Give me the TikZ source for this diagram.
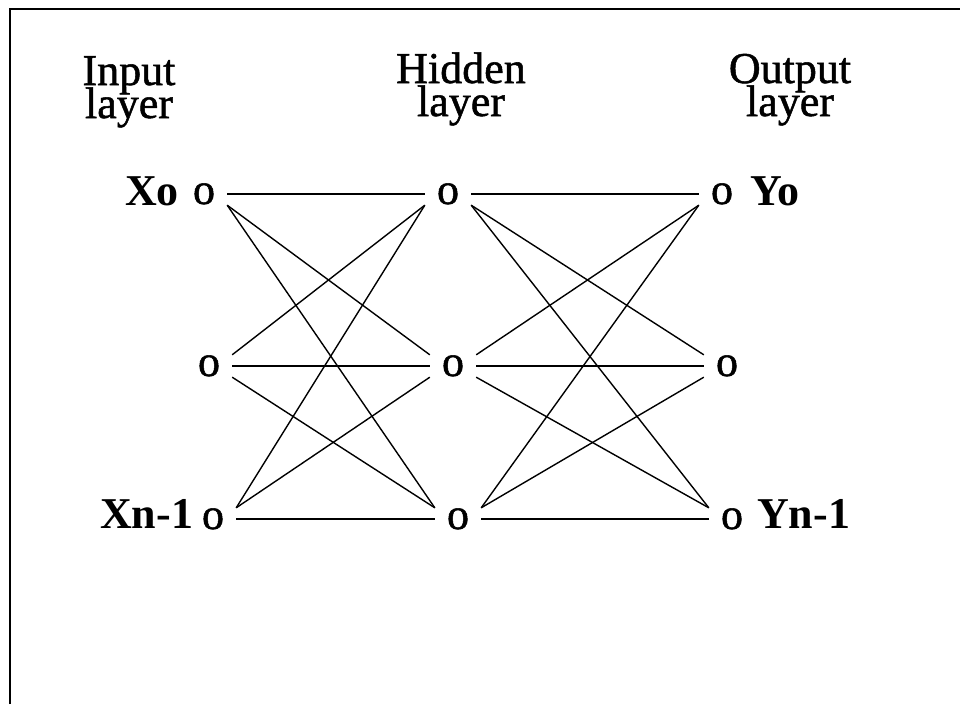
\documentclass[tikz,border=0pt]{standalone}
\usepackage{fontspec}
\setmainfont{Liberation Serif}
% slightly heavier upright face for titles and unit marks
\newfontfamily\inkserif{Liberation Serif}[FakeBold=1.2]
% titles are set with a fixed, tight line distance
\newcommand\tightlines{\lineskiplimit=-60pt\relax\lineskip=0pt\relax}
\begin{document}
\begin{tikzpicture}[x=1pt,y=-1pt,
  unit/.style={minimum width=46pt, minimum height=22pt, inner sep=0pt,
    text height=20pt, text depth=0pt,
    font=\fontsize{44}{44}\inkserif},
  lbl/.style={inner sep=0pt, font=\fontsize{44}{44}\selectfont\bfseries},
  head/.style={inner sep=0pt, align=center,
    font=\fontsize{44}{33}\inkserif\tightlines},
  link/.style={line width=1.4pt}]
\useasboundingbox (0,0) rectangle (960,704);
% frame
\coordinate (fb) at (10,704);
\coordinate (fc) at (10,9);
\coordinate (fr) at (960,9);
\draw[line width=2.6pt] (fb) -- (fc) -- (fr);

% layer titles (anchored on the baseline of the second line)
\node[head, anchor=base] (t1) at (129,118) {Input\\layer};
\node[head, anchor=base] (t2) at (461,116) {Hidden\\layer};
\node[head, anchor=base] (t3) at (790,116) {Output\\layer};

% units
\node[unit] (i1) at (204,194) {o};
\node[unit] (i2) at (209,366) {o};
\node[unit] (i3) at (213,519) {o};
\node[unit] (h1) at (448,194) {o};
\node[unit] (h2) at (453,366) {o};
\node[unit] (h3) at (458,519) {o};
\node[unit] (o1) at (722,194) {o};
\node[unit] (o2) at (727,366) {o};
\node[unit] (o3) at (732,519) {o};

% unit labels
\node[lbl, anchor=base west] (lx0) at (125,205) {Xo};
\node[lbl, anchor=base west] (lxn) at (100,528) {Xn-1};
\node[lbl, anchor=base west] (ly0) at (750,205) {Yo};
\node[lbl, anchor=base west] (lyn) at (757,528) {Yn-1};

% full connections between neighbouring layers
\foreach \a/\b in {i/h, h/o}{
  \foreach \r in {1,2,3}{
    \draw[link] (\a\r.east) -- (\b\r.west);
  }
  \foreach \r/\s in {1/2, 1/3, 2/3}{
    \draw[link] (\a\r.south east) -- (\b\s.north west);
    \draw[link] (\a\s.north east) -- (\b\r.south west);
  }
}
\end{tikzpicture}
\end{document}
